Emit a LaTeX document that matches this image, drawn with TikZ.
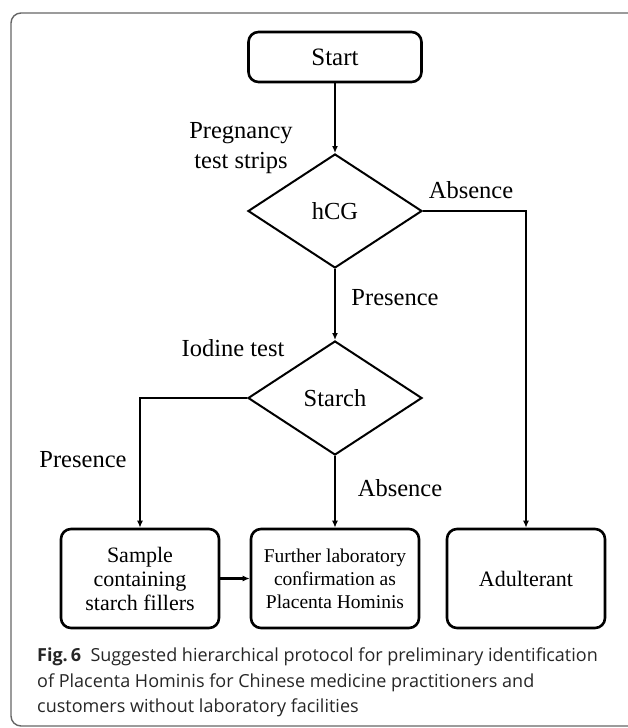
\documentclass[tikz,border=0pt]{standalone}
\usepackage{fontspec}
\setmainfont{Liberation Serif}
\newfontfamily\capfont{Open Sans}
\usetikzlibrary{positioning,arrows.meta,shapes.geometric}

\begin{document}
\begin{tikzpicture}[
  x=1pt, y=-1pt,
  box/.style={draw, line width=2.6pt, rounded corners=10pt, align=center, minimum height=99pt, font=\fontsize{22}{24}\selectfont},
  test/.style={draw, diamond, line width=2pt, minimum width=174pt, minimum height=114pt, inner sep=0pt, font=\fontsize{24.5}{30}\selectfont},
  lbl/.style={align=center, font=\fontsize{24.5}{30}\selectfont},
  arr/.style={line width=2pt, -{Latex[length=7pt,width=6pt]}}
]
\useasboundingbox (0,0) rectangle (628,728);
\begin{scope}
\clip (0,0) rectangle (628,728);
\draw[black!60, line width=1.4pt, rounded corners=10pt] (11,13) rectangle (660,726);
\end{scope}

\node (start) [box, minimum width=173pt, minimum height=50pt, font=\fontsize{25}{30}\selectfont] at (335,57) {Start};
\node (hcg) [test, below=69.7pt of start] {hCG};
\node (starch) [test, below=71pt of hcg] {Starch};

\node (further) [box, minimum width=168pt, below=71.7pt of starch, font=\fontsize{19.5}{23}\selectfont] {Further laboratory\\confirmation as\\Placenta Hominis};
\node (sample) [box, minimum width=158pt, left=29.4pt of further] {Sample\\containing\\starch fillers};
\node (adult) [box, minimum width=158pt, right=25.4pt of further] {Adulterant};

% labels on the branches
\node (strips) [lbl] at (241,148) {Pregnancy\\test strips};
\node (abs1) [lbl] at (471,190) {Absence};
\node (pres1) [lbl] at (395,298) {Presence};
\node (iodine) [lbl] at (233,348) {Iodine test};
\node (pres2) [lbl] at (83,460) {Presence};
\node (abs2) [lbl] at (400,488) {Absence};

\draw[arr] (start) -- (hcg);
\draw[arr] (hcg) -- (starch);
\draw[arr] (hcg.east) -| (adult);
\draw[arr] (starch.west) -| (sample);
\draw[arr] (starch) -- (further);
\draw[arr, line width=2.6pt] (sample) -- (further);

\node (caption) [anchor=north west, align=left, text=black!85, inner sep=0pt, font=\capfont\fontsize{18}{25.5}\selectfont] at (37,648)
  {\textbf{Fig.\,6}\ \ Suggested hierarchical protocol for preliminary identification\\
   of Placenta Hominis for Chinese medicine practitioners and\\
   customers without laboratory facilities};
\end{tikzpicture}
\end{document}
